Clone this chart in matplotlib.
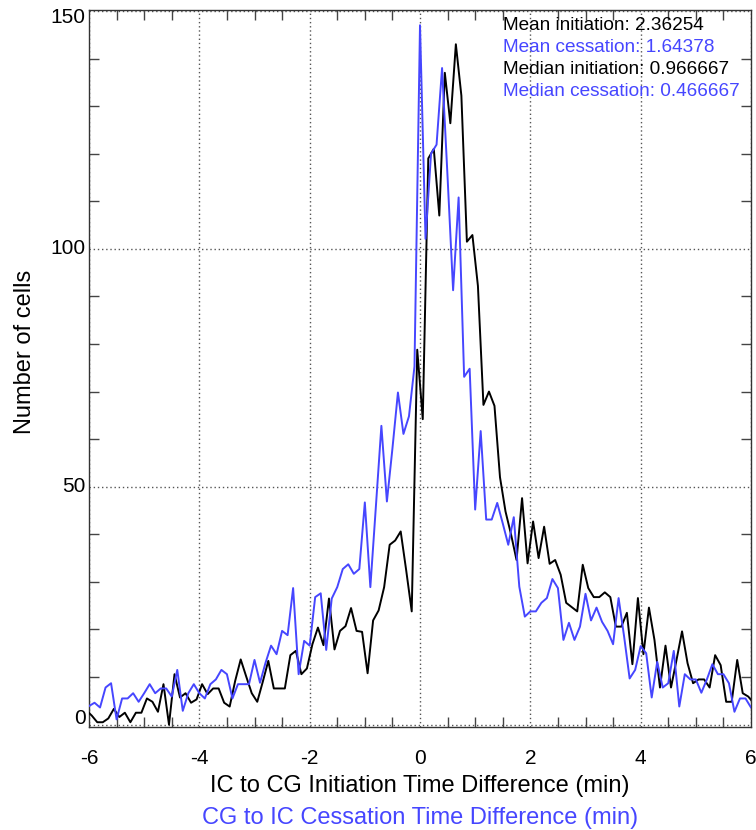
import numpy as np
import matplotlib
matplotlib.use('Agg')
import matplotlib.pyplot as plt
from matplotlib.ticker import MultipleLocator, NullFormatter

plt.rcParams['font.family'] = ['Liberation Sans', 'DejaVu Sans']
plt.rcParams['axes.unicode_minus'] = False

BLUE = '#4646ff'

# CG to IC cessation time difference histogram (blue), bins every 0.1 min
x_cess = np.round(np.arange(-6.0, 6.0001, 0.1), 2)
cess = [3.9, 4.6, 3.6, 7.8, 8.7, 1.1, 5.5, 5.5, 6.6, 4.8,
        6.6, 8.5, 6.6, 7.6, 7.6, 5.9, 11.5, 2.9, 6.6, 8.5,
        6.6, 5.5, 8.5, 9.5, 11.5, 10.6, 5.5, 8.5, 8.5, 8.5,
        13.6, 8.8, 13.0, 16.6, 14.8, 19.7, 18.8, 28.7, 10.6, 17.6,
        16.6, 26.8, 27.6, 15.7, 26.5, 28.9, 32.7, 33.7, 31.7, 32.7,
        46.7, 28.9, 45.8, 62.8, 46.9, 58.0, 69.8, 61.1, 64.8, 75.3,
        147.0, 102.1, 120.0, 121.9, 138.0, 115.0, 91.3, 110.8, 73.1, 74.8,
        45.2, 61.7, 43.1, 43.1, 46.6, 42.3, 37.8, 43.6, 29.0, 22.7,
        23.8, 23.8, 25.6, 26.6, 30.6, 28.7, 17.8, 21.4, 17.8, 20.6,
        27.5, 21.9, 24.6, 21.6, 19.7, 16.9, 26.6, 18.5, 9.7, 11.5,
        16.5, 15.0, 5.7, 13.2, 7.8, 8.7, 15.5, 3.8, 10.6, 9.5,
        9.5, 6.7, 9.5, 12.7, 10.6, 10.6, 8.7, 2.7, 5.5, 5.5, 3.6]

# IC to CG initiation time difference histogram (black), bins centred half a bin off
x_init = np.round(np.arange(-6.05, 6.0501, 0.1), 2)
init = [3.0, 1.9, 0.5, 0.5, 1.3, 3.3, 1.6, 2.5, 0.5, 2.5,
        2.5, 5.5, 4.8, 2.7, 8.5, 0.0, 10.6, 5.7, 6.6, 4.6,
        5.3, 8.5, 6.4, 7.6, 7.6, 4.6, 3.8, 9.2, 13.7, 10.1, 6.6,
        4.8, 9.0, 13.4, 7.6, 7.6, 7.6, 14.6, 15.5, 10.6, 11.8,
        16.9, 20.4, 16.7, 26.5, 15.8, 19.7, 20.7, 24.5, 19.7, 19.5,
        10.8, 21.9, 24.0, 28.9, 37.8, 38.7, 40.6, 32.4, 23.8, 78.8,
        64.2, 119.0, 121.0, 107.0, 137.0, 126.4, 143.0, 132.2, 101.5, 102.9,
        92.2, 67.2, 70.0, 67.0, 52.0, 44.8, 40.0, 34.6, 47.6, 33.9,
        42.7, 35.0, 41.6, 33.8, 34.6, 31.5, 25.6, 24.7, 23.8, 33.6,
        28.7, 26.8, 26.8, 27.8, 26.8, 20.6, 20.6, 23.5, 12.7, 26.6,
        14.8, 24.6, 17.8, 7.8, 16.6, 7.8, 13.6, 19.6, 12.9, 8.7,
        9.5, 9.5, 7.8, 14.6, 12.5, 4.8, 4.8, 13.6, 6.6, 5.9, 4.5]

y_ticks = [0, 50, 100, 150]
y_tick_labels = ['0', '50', '100', '150']

stats_text = ['Mean initiation: 2.36254', 'Mean cessation: 1.64378',
              'Median initiation: 0.966667', 'Median cessation: 0.466667']
stats_color = ['black', BLUE, 'black', BLUE]

W, H = 756, 830
fig = plt.figure(figsize=(W / 100, H / 100), dpi=100)
ax = fig.add_axes([89 / W, 1 - 727 / H, (751 - 89) / W, (727 - 10) / H])

ax.plot(x_init, init, color='black', lw=1.4, zorder=3)
ax.plot(x_cess, cess, color=BLUE, lw=1.4, zorder=3)

ax.set_xlim(-6, 6)
ax.set_ylim(-0.5, 150.2)
ax.xaxis.set_major_locator(MultipleLocator(2))
ax.xaxis.set_minor_locator(MultipleLocator(0.5))
ax.set_yticks(y_ticks)
ax.yaxis.set_major_formatter(NullFormatter())
ax.yaxis.set_minor_locator(MultipleLocator(10))
ax.tick_params(which='both', direction='in', top=True, right=True)
ax.tick_params(which='major', length=0, labelsize=15)
ax.tick_params(axis='x', which='major', pad=16)
ax.tick_params(which='minor', length=7, width=1.0, color='#444444')
ax.grid(True, which='major', linestyle=(0, (1, 2)), color='#555555', lw=1.0)
for sp in ax.spines.values():
    sp.set_linestyle((0, (1, 1)))
    sp.set_color('#333333')
    sp.set_linewidth(1.0)

# y tick labels: the end labels sit slightly inside the axis range
for v, lab in zip(y_ticks, y_tick_labels):
    dy = 4.5 if v == y_ticks[0] else (-4.5 if v == y_ticks[-1] else 0)
    ax.annotate(lab, xy=(0, v), xycoords=('axes fraction', 'data'),
                xytext=(-2.5, dy), textcoords='offset points',
                ha='right', va='center', fontsize=15, annotation_clip=False)

for i, (t, c) in enumerate(zip(stats_text, stats_color)):
    fig.text(503 / W, 1 - (25 + 22 * i) / H, t, color=c, fontsize=13.7,
             ha='left', va='center')

fig.text(420 / W, 1 - 786 / H, 'IC to CG Initiation Time Difference (min)',
         color='black', fontsize=17, ha='center', va='center')
fig.text(420 / W, 1 - 818 / H, 'CG to IC Cessation Time Difference (min)',
         color=BLUE, fontsize=17, ha='center', va='center')
fig.text(25 / W, 1 - 352 / H, 'Number of cells', color='black', fontsize=17,
         rotation=90, ha='center', va='center')

fig.savefig('out.png', dpi=100)
